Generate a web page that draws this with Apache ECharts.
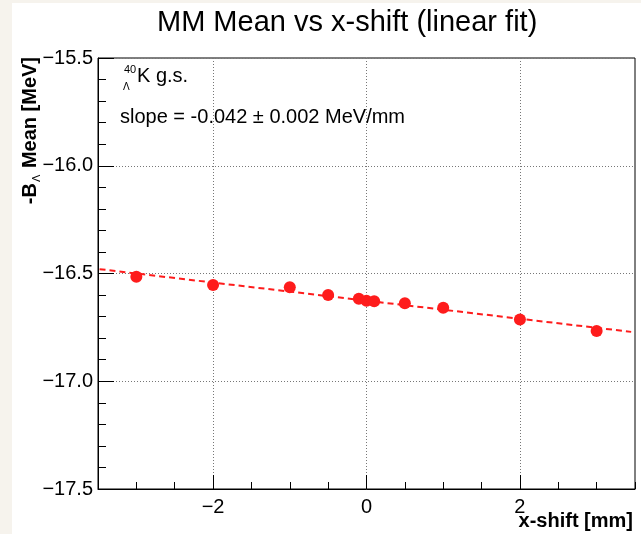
<!DOCTYPE html>
<html><head><meta charset="utf-8">
<script src="https://cdn.jsdelivr.net/npm/echarts@6/dist/echarts.min.js"></script>
<style>html,body{margin:0;padding:0;background:#fff}#c{width:641px;height:534px}</style>
</head><body><div id="c"></div>
<script>
// data
const xShift = [-3, -2, -1, -0.5, -0.1, 0, 0.1, 0.5, 1, 2, 3];
const meanB = [-16.515, -16.553, -16.564, -16.600, -16.617, -16.626, -16.629, -16.638, -16.659, -16.714, -16.767];
const fitSlope = -0.042;
const fitIntercept = -16.626;
const fitRange = [-3.48, 3.45];
const xMajorTicks = [-2, 0, 2];
const titleText = 'MM Mean vs x-shift (linear fit)';
const slopeText = 'slope = -0.042 \u00b1 0.002 MeV/mm';

const FONT = 'Liberation Sans, Arial, Helvetica, sans-serif';
const RED = '#fe1c1c';
const fmt = v => (v < 0 ? '\u2212' : '') + Math.abs(v).toFixed(1);
const fmtX = v => (v < 0 ? '\u2212' : '') + Math.abs(v);

const points = xShift.map((x, i) => [x, meanB[i]]);
const fitLine = fitRange.map(x => [x, fitIntercept + fitSlope * x]);

const chart = echarts.init(document.getElementById('c'), null, {renderer: 'canvas'});
chart.setOption({
  backgroundColor: '#fff',
  animation: false,
  textStyle: {fontFamily: FONT},
  title: {
    text: titleText, left: 152, top: 3,
    textStyle: {fontFamily: FONT, fontSize: 29, fontWeight: 'normal', color: '#000'}
  },
  grid: {left: 98, right: 6, top: 58, bottom: 45, containLabel: false, outerBoundsMode: 'none',
    show: true, borderColor: '#000', borderWidth: 1, backgroundColor: 'transparent'},
  xAxis: [
    {
      type: 'value', min: -3.5, max: 3.5, interval: 0.5, position: 'bottom',
      axisLine: {show: true, onZero: false, lineStyle: {color: '#000', width: 1}},
      axisTick: {show: true, inside: true, length: 7, lineStyle: {color: '#000'}},
      axisLabel: {show: false},
      splitLine: {show: false}
    },
    {
      type: 'value', min: -3.5, max: 3.5, position: 'bottom', offset: 0,
      name: 'x-shift [mm]', nameLocation: 'end', nameGap: 0, nameMoveOverlap: false,
      nameTextStyle: {fontFamily: FONT, fontSize: 20, fontWeight: 'bold', color: '#000', align: 'right', verticalAlign: 'top', padding: [22, 2, 0, 0]},
      axisLine: {show: false, onZero: false},
      axisTick: {show: true, inside: true, length: 14, customValues: xMajorTicks, lineStyle: {color: '#000'}},
      axisLabel: {show: true, customValues: xMajorTicks, formatter: fmtX, fontFamily: FONT, fontSize: 20, color: '#000', margin: 8},
      splitLine: {show: true, lineStyle: {color: '#777', type: [1, 2], width: 1}}
    }
  ],
  yAxis: {
    type: 'value', min: -17.5, max: -15.5, interval: 0.5,
    axisLine: {show: true, onZero: false, lineStyle: {color: '#000', width: 1}},
    axisTick: {show: true, inside: true, length: 16, lineStyle: {color: '#000'}},
    minorTick: {show: true, splitNumber: 5, length: 8, lineStyle: {color: '#000'}},
    axisLabel: {formatter: fmt, fontFamily: FONT, fontSize: 20, color: '#000', margin: 5},
    splitLine: {show: true, lineStyle: {color: '#777', type: [1, 2], width: 1}}
  },
  graphic: [
    {type: 'rect', shape: {x: 0, y: 0, width: 12, height: 534}, style: {fill: '#f6f3ed'}, silent: true, z: -10},
    {type: 'rect', shape: {x: 0, y: 0, width: 641, height: 3}, style: {fill: '#f6f3ed'}, silent: true, z: -10},
    {type: 'text', x: 30, y: 57, rotation: Math.PI / 2, z: 10,
      style: {text: '-B{s|\u039b} Mean [MeV]', fontFamily: FONT, fontSize: 20, fontWeight: 'bold', fill: '#000', align: 'right', verticalAlign: 'middle',
        rich: {s: {fontFamily: FONT, fontSize: 11, fontWeight: 'normal', fill: '#000', padding: [14, 1, 0, 1]}}}},
    {type: 'text', x: 124, y: 64, z: 10, style: {text: '40', fontFamily: FONT, fontSize: 11, fill: '#000'}},
    {type: 'text', x: 123, y: 82, z: 10, style: {text: '\u039b', fontFamily: FONT, fontSize: 10, fill: '#000'}},
    {type: 'text', x: 137, y: 66, z: 10, style: {text: 'K g.s.', fontFamily: FONT, fontSize: 20, fill: '#000'}},
    {type: 'text', x: 120, y: 107, z: 10, style: {text: slopeText, fontFamily: FONT, fontSize: 20, fill: '#000'}}
  ],
  series: [
    {type: 'line', xAxisIndex: 0, data: fitLine, showSymbol: false, symbol: 'none', z: 2,
      lineStyle: {color: RED, width: 2, type: [6, 4]}},
    {type: 'scatter', xAxisIndex: 0, data: points, symbol: 'circle', symbolSize: 12, z: 3,
      itemStyle: {color: RED, opacity: 1}}
  ]
});
</script></body></html>
